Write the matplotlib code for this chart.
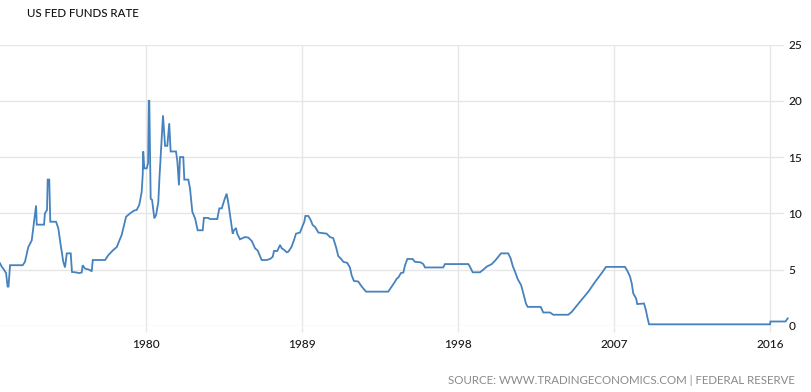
import matplotlib
matplotlib.use("Agg")
import matplotlib.pyplot as plt

plt.rcParams["font.family"] = ["Lato", "DejaVu Sans"]

title = "US FED FUNDS RATE"
source = "SOURCE: WWW.TRADINGECONOMICS.COM | FEDERAL RESERVE"

years = [1971.60, 1971.70, 1971.83, 1971.95, 1972.04, 1972.09, 1972.18, 1972.91, 1973.04, 1973.23,
         1973.43, 1973.68, 1973.72, 1974.14, 1974.19, 1974.31, 1974.35, 1974.44, 1974.50, 1974.83,
         1974.96, 1975.10, 1975.25, 1975.35, 1975.45, 1975.68, 1975.75, 1976.02, 1976.17, 1976.31,
         1976.37, 1976.50, 1976.75, 1976.89, 1976.95, 1977.66, 1977.85, 1978.13, 1978.33, 1978.62,
         1978.87, 1979.10, 1979.33, 1979.48, 1979.63, 1979.77, 1979.83, 1979.86, 1979.92, 1980.06,
         1980.14, 1980.18, 1980.21, 1980.29, 1980.37, 1980.50, 1980.60, 1980.73, 1980.79, 1981.00,
         1981.12, 1981.25, 1981.36, 1981.44, 1981.75, 1981.83, 1981.92, 1981.98, 1982.17, 1982.23,
         1982.46, 1982.56, 1982.69, 1982.85, 1983.00, 1983.29, 1983.36, 1983.61, 1983.71, 1984.13,
         1984.25, 1984.39, 1984.54, 1984.67, 1984.77, 1984.92, 1985.02, 1985.09, 1985.21, 1985.28,
         1985.44, 1985.73, 1985.92, 1986.12, 1986.31, 1986.46, 1986.69, 1986.98, 1987.17, 1987.33,
         1987.40, 1987.59, 1987.75, 1987.85, 1988.00, 1988.13, 1988.23, 1988.42, 1988.57, 1988.67,
         1988.90, 1989.00, 1989.15, 1989.21, 1989.38, 1989.52, 1989.63, 1989.77, 1989.96, 1990.44,
         1990.63, 1990.82, 1990.98, 1991.11, 1991.25, 1991.40, 1991.63, 1991.78, 1991.88, 1992.01,
         1992.26, 1992.46, 1992.71, 1993.99, 1994.19, 1994.32, 1994.48, 1994.57, 1994.72, 1994.86,
         1994.96, 1995.09, 1995.40, 1995.53, 1995.86, 1996.01, 1996.11, 1997.16, 1997.26, 1998.61,
         1998.70, 1998.86, 1999.28, 1999.47, 1999.67, 1999.96, 2000.15, 2000.34, 2000.49, 2000.91,
         2001.05, 2001.17, 2001.30, 2001.46, 2001.65, 2001.78, 2001.93, 2002.03, 2002.78, 2002.93,
         2003.32, 2003.51, 2004.37, 2004.57, 2005.05, 2005.53, 2005.91, 2006.30, 2006.55, 2007.64,
         2007.78, 2007.93, 2008.03, 2008.12, 2008.28, 2008.35, 2008.74, 2008.85, 2008.93, 2009.03,
         2016.01, 2016.03, 2016.90, 2017.03]

rates = [5.57, 5.27, 5.0, 4.7, 3.5, 3.5, 5.4, 5.4, 5.7, 7.0,
         7.6, 10.7, 9.0, 9.0, 10.0, 10.3, 13.0, 13.0, 9.26, 9.26,
         8.7, 7.2, 5.7, 5.2, 6.45, 6.45, 4.8, 4.75, 4.7, 4.75,
         5.4, 5.1, 5.0, 4.85, 5.86, 5.86, 6.3, 6.75, 7.0, 8.1,
         9.7, 10.0, 10.25, 10.3, 10.75, 11.9, 13.4, 15.5, 14.0, 14.0,
         14.45, 20.0, 20.0, 11.3, 11.2, 9.56, 9.85, 11.0, 13.0, 18.7,
         16.0, 16.0, 18.0, 15.5, 15.5, 14.6, 12.5, 15.0, 15.0, 13.0,
         13.0, 12.2, 10.15, 9.56, 8.5, 8.5, 9.6, 9.6, 9.5, 9.5,
         10.45, 10.45, 11.2, 11.75, 10.9, 9.26, 8.2, 8.5, 8.7, 8.2,
         7.7, 7.9, 7.85, 7.55, 6.9, 6.7, 5.86, 5.86, 5.95, 6.15,
         6.66, 6.66, 7.2, 6.9, 6.75, 6.55, 6.6, 7.05, 7.7, 8.2,
         8.3, 8.7, 9.26, 9.77, 9.77, 9.4, 8.97, 8.8, 8.3, 8.2,
         7.9, 7.8, 7.0, 6.2, 6.0, 5.7, 5.6, 5.2, 4.5, 4.0,
         3.95, 3.5, 3.05, 3.05, 3.5, 3.8, 4.2, 4.3, 4.7, 4.75,
         5.4, 5.95, 5.95, 5.7, 5.65, 5.5, 5.2, 5.2, 5.5, 5.5,
         5.27, 4.77, 4.77, 5.0, 5.27, 5.5, 5.8, 6.15, 6.45, 6.45,
         6.0, 5.33, 4.82, 4.15, 3.64, 2.9, 2.0, 1.7, 1.7, 1.2,
         1.2, 1.0, 1.0, 1.25, 2.16, 3.05, 3.9, 4.7, 5.25, 5.25,
         4.9, 4.4, 3.8, 2.9, 2.46, 1.95, 2.0, 1.4, 0.8, 0.15,
         0.15, 0.4, 0.4, 0.68]

x_ticks = [1980, 1989, 1998, 2007, 2016]
x_tick_labels = ["1980", "1989", "1998", "2007", "2016"]
y_ticks = [0, 5, 10, 15, 20, 25]

W, H = 811, 392
fig = plt.figure(figsize=(W / 100, H / 100), dpi=100)
fig.patch.set_facecolor("white")

ax_left, ax_right, ax_top, ax_bottom = 0, 784, 44.5, 326
ax = fig.add_axes([ax_left / W, (H - ax_bottom) / H, (ax_right - ax_left) / W, (ax_bottom - ax_top) / H])

ax.plot(years, rates, color="#4682BE", linewidth=1.3, clip_on=False, zorder=3,
        solid_joinstyle="miter")

ax.set_xlim(1971.6, 1971.6 + 784 / 17.34)
ax.set_ylim(0, 25)
ax.set_xticks(x_ticks)
ax.set_xticklabels(x_tick_labels)
ax.set_yticks(y_ticks)
ax.yaxis.tick_right()

for s in ax.spines.values():
    s.set_visible(False)

ax.grid(True, color="#e6e6e6", linewidth=1.0)
ax.set_axisbelow(True)
ax.tick_params(axis="x", length=4, width=1.0, color="#e6e6e6", pad=5,
               labelsize=8.6, labelcolor="#1a1a1a")
ax.tick_params(axis="y", length=0, pad=3, labelsize=8.6, labelcolor="#1a1a1a")
for lbl in ax.get_xticklabels() + ax.get_yticklabels():
    lbl.set_fontweight("medium")

fig.text(27 / W, 1 - 13.5 / H, title, fontsize=8.3, color="#111111", ha="left", va="center",
         fontweight="medium")
fig.text(795 / W, 1 - 380 / H, source, fontsize=8.3, color="#8a8a8a", ha="right", va="center")

fig.savefig("out.png", dpi=100, facecolor="white")
